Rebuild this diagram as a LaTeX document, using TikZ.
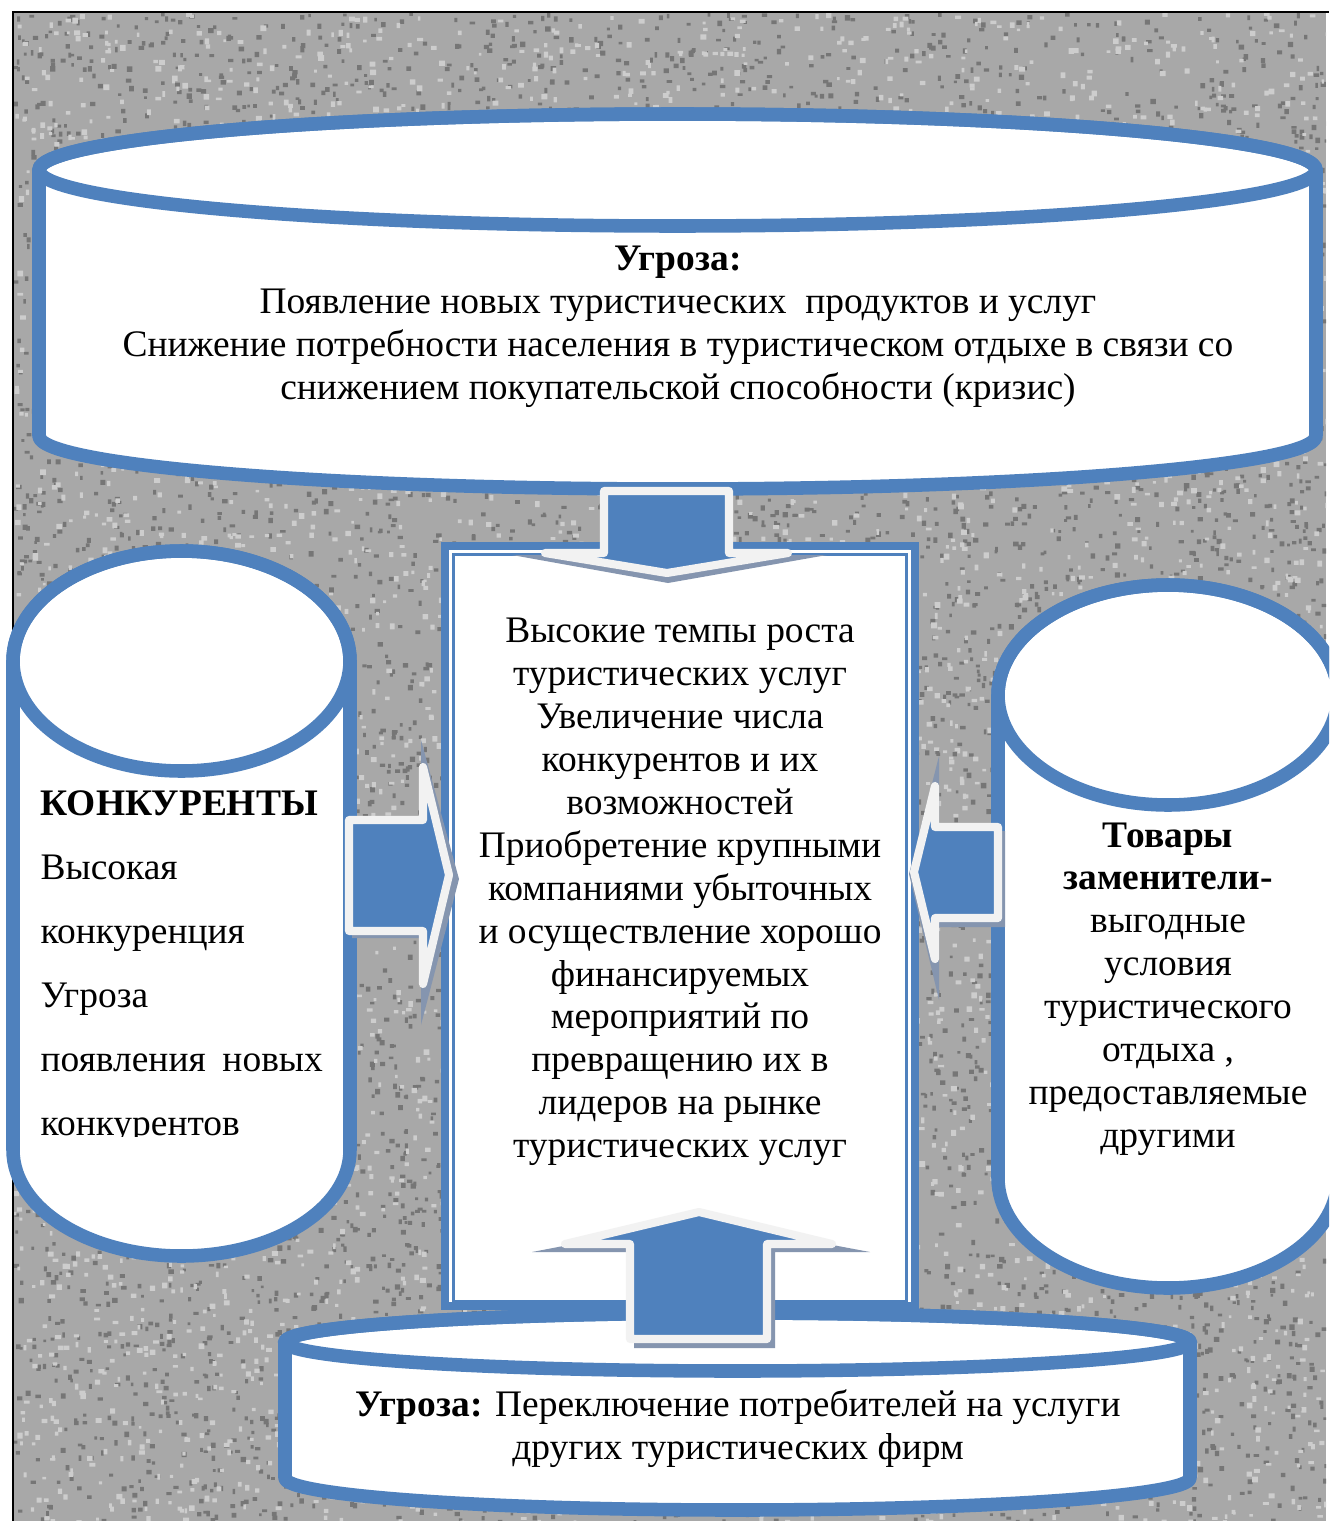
\documentclass[tikz,border=0pt]{standalone}
\usepackage{fontspec}
\setmainfont{Liberation Serif}
\definecolor{cylblue}{HTML}{4F81BD}
\definecolor{arrowrim}{HTML}{F2F2F2}
\definecolor{arrowshade}{HTML}{8595AF}
\definecolor{texbase}{HTML}{A8A8A8}
\definecolor{texdark}{HTML}{767676}
\definecolor{texlight}{HTML}{CDCDCD}
\begin{document}
\begin{tikzpicture}[x=0.01cm,y=-0.01cm,
  cyl/.style={draw=cylblue,fill=white,line width=3.85pt,line join=round},
  cylrim/.style={draw=cylblue,line width=3.85pt},
  boxouter/.style={draw=cylblue,fill=white,line width=2.3pt},
  boxinner/.style={draw=cylblue,line width=0.75pt},
  blockarrow/.style={fill=cylblue,draw=arrowrim,line width=2.3pt,line join=round},
  arrowshadow/.style={fill=arrowshade},
  txt/.style={font=\fontsize{10.65}{12.2}\selectfont,inner sep=0pt,align=center}]
\useasboundingbox (0,0) rectangle (1329,1521);
\clip (0,0) rectangle (1329,1521);

% speckled grey backdrop: grains filled in batches of 2500 per path
\fill[texbase] (13,12) rectangle (1326,1521);
\begin{scope}
  \clip (13,12) rectangle (1326,1521);
  \pgfmathsetseed{4711}
  \foreach \batch in {1,2,3}{
    \fill[texdark] \foreach \k in {1,...,2500}{
      ({13+1313*rnd},{12+1509*rnd}) rectangle ++({2.5+3*rnd},{2.5+3*rnd})};
  }
  \foreach \batch in {1,2}{
    \fill[texlight] \foreach \k in {1,...,2500}{
      ({13+1313*rnd},{12+1509*rnd}) rectangle ++({2.5+3.5*rnd},{2.5+3.5*rnd})};
  }
\end{scope}
\draw[line width=0.45pt] (13,1521) -- (13,12) -- (1329,12);

% top cylinder
\path[cyl] (39,170) -- (39,436) arc[start angle=180,end angle=0,x radius=638.5,y radius=53]
  -- (1316,170) arc[start angle=0,end angle=-180,x radius=638.5,y radius=56] -- cycle;
\draw[cylrim] (677.5,170) ellipse[x radius=638.5,y radius=56];

% left cylinder
\path[cyl] (13,661) -- (13,1150) arc[start angle=180,end angle=0,x radius=168.5,y radius=106]
  -- (350,661) arc[start angle=0,end angle=-180,x radius=168.5,y radius=110] -- cycle;
\draw[cylrim] (181.5,661) ellipse[x radius=168.5,y radius=110];

% right cylinder
\path[cyl] (998,695) -- (998,1178) arc[start angle=180,end angle=0,x radius=170,y radius=110]
  -- (1338,695) arc[start angle=0,end angle=-180,x radius=170,y radius=110] -- cycle;
\draw[cylrim] (1168,695) ellipse[x radius=170,y radius=110];

% bottom cylinder
\path[cyl] (285,1342) -- (285,1478) arc[start angle=180,end angle=0,x radius=452.5,y radius=32]
  -- (1190,1342) arc[start angle=0,end angle=-180,x radius=452.5,y radius=29] -- cycle;
\draw[cylrim] (737.5,1342) ellipse[x radius=452.5,y radius=29];

% central box with thick-thin border
\path[boxouter] (445,546) rectangle (915,1306);
\draw[boxinner] (453.5,554.5) rectangle (906.5,1301.5);

% block arrows pointing into the central box
\fill[arrowshadow] (512,555) -- (827,555) -- (668,583) -- cycle;
\path[blockarrow] (604,491) -- (729,491) -- (729,553) -- (788,553) -- (667,573) -- (545,553) -- (604,553) -- cycle;

\fill[arrowshadow] (532,1252) -- (699,1220) -- (870,1252) -- (775,1252) -- (775,1348) -- (634,1348) -- (634,1252) -- cycle;
\path[blockarrow] (630,1339) -- (767,1339) -- (767,1244) -- (832,1244) -- (699,1212) -- (565,1244) -- (630,1244) -- cycle;

\fill[arrowshadow] (352,825) -- (421,825) -- (421,740) -- (459,879) -- (421,1025) -- (421,938) -- (352,938) -- cycle;
\path[blockarrow] (349,820) -- (423,820) -- (423,767) -- (449,875) -- (423,984) -- (423,931) -- (349,931) -- cycle;

\fill[arrowshadow] (1005,831) -- (1005,927) -- (939,927) -- (939,1000) -- (909,874) -- (939,756) -- (939,831) -- cycle;
\path[blockarrow] (998,827) -- (998,918) -- (935,918) -- (935,959) -- (914,872) -- (935,786) -- (935,827) -- cycle;

% texts
\node[txt] (topText) at (678,327) {\textbf{Угроза:}\\Появление новых туристических\ \ продуктов и услуг\\Снижение потребности населения в туристическом отдыхе в связи со\\снижением покупательской способности (кризис)};

\node[txt] (coreText) at (680,892) {Высокие темпы роста\\туристических услуг\\Увеличение числа\\конкурентов и их\\возможностей\\Приобретение крупными\\компаниями убыточных\\и осуществление хорошо\\финансируемых\\мероприятий по\\превращению их в\\лидеров на рынке\\туристических услуг};

\node[txt] (substText) at (1168,989) {\textbf{Товары}\\\textbf{заменители-}\\выгодные\\условия\\туристического\\отдыха ,\\предоставляемые\\другими};

\node[txt] (switchText) at (738,1429) {\textbf{Угроза:} Переключение потребителей на услуги\\других туристических фирм};

\begin{scope}
  \clip (14,700) rectangle (350,1136);
  \node[txt,align=left,font=\fontsize{10.65}{18.2}\selectfont,anchor=base west] (rivalText) at (40,1135)
    {\textbf{КОНКУРЕНТЫ}\\Высокая\\конкуренция\\Угроза\\\hbox to 2.82cm{появления\hfil новых}\\конкурентов};
\end{scope}
\end{tikzpicture}
\end{document}
